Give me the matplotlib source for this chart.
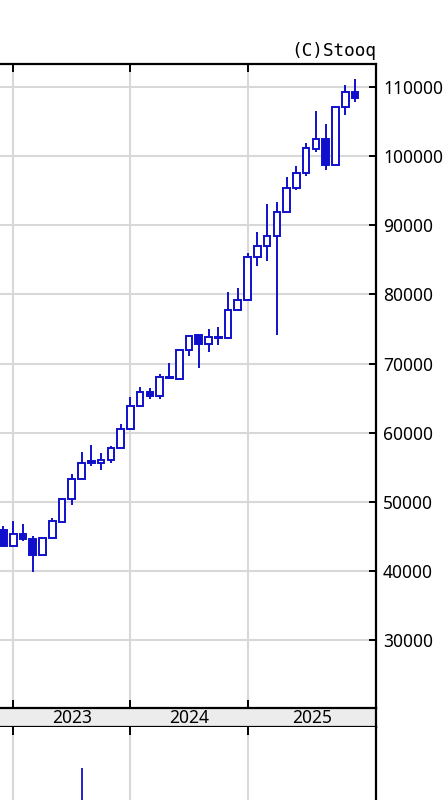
import matplotlib
matplotlib.use("Agg")
import matplotlib.pyplot as plt
import numpy as np

# monthly candles, Dec 2022 .. Dec 2025
opens = [45930, 43610, 45350, 44600, 42310, 44820, 47150, 50410, 53300, 55910,
         55650, 56050, 57750, 60490, 63900, 65940, 65310, 68010, 67770, 71960,
         74130, 72830, 73700, 73760, 77750, 79190, 85370, 87050, 88450, 91960,
         95440, 97520, 101030, 102480, 98720, 107150, 109320]
highs = [46510, 47270, 46800, 45060, 44900, 47710, 50600, 54030, 57250, 58220,
         57060, 58080, 61260, 65210, 66650, 66510, 68450, 70130, 71960, 73990,
         74130, 74960, 75330, 80300, 80890, 85950, 89070, 93030, 93410, 97030,
         98570, 101860, 106530, 104600, 107250, 110290, 111160]
lows = [43610, 43470, 44340, 39900, 42310, 44820, 47000, 49540, 53300, 55180,
        54600, 55670, 57750, 60490, 63900, 64830, 64830, 67770, 67770, 71090,
        69310, 71640, 72690, 73760, 77750, 79190, 84150, 84870, 74130, 91960,
        95100, 97130, 100640, 98000, 98720, 105950, 107790]
closes = [43610, 45350, 44580, 42310, 44820, 47230, 50460, 53300, 55580, 55580,
          56050, 57750, 60490, 63900, 65840, 65310, 68010, 67900, 71960, 73990,
          72790, 73790, 73900, 77750, 79190, 85460, 87050, 88450, 91960, 95440,
          97520, 101130, 102480, 98720, 107150, 109230, 108450]
volumes = [40, 35, 30, 45, 38, 33, 42, 50, 87, 36, 30, 34, 41, 48, 37, 32, 30, 28,
           35, 39, 44, 31, 29, 40, 36, 52, 38, 47, 55, 42, 34, 46, 39, 50, 45, 37, 33]
year_starts = [1, 13, 25]
year_labels = ["2023", "2024", "2025"]
price_ticks = [30000, 40000, 50000, 60000, 70000, 80000, 90000, 100000, 110000]

blue = "#1010cc"
grid_c = "#d8d8d8"
font = ["Noto Sans", "DejaVu Sans"]

x = np.arange(len(opens))
xmin, xmax = -0.35, 38.15

fig = plt.figure(figsize=(4.46, 8.0), dpi=100)
right = 376 / 446

# main price panel
ax = fig.add_axes([0, 1 - 708 / 800, right, (708 - 64) / 800])
ax.set_xlim(xmin, xmax)
ax.set_ylim(20180, 113330)
for y in price_ticks:
    ax.axhline(y, color=grid_c, lw=1.5, zorder=0)
for xs in year_starts:
    ax.axvline(xs, color=grid_c, lw=1.5, zorder=0)

o = np.array(opens); c = np.array(closes)
ax.vlines(x, lows, highs, color=blue, lw=1.4, zorder=2)
bottoms = np.minimum(o, c)
heights = np.maximum(np.abs(c - o), 60)
faces = ["white" if cc >= oo else blue for oo, cc in zip(o, c)]
ax.bar(x, heights, 0.68, bottom=bottoms, color=faces, edgecolor=blue, linewidth=1.4, zorder=3)

ax.spines["left"].set_visible(False)
ax.spines["bottom"].set_visible(False)
for s in ["top", "right"]:
    ax.spines[s].set_linewidth(1.6)
ax.yaxis.tick_right()
ax.set_yticks(price_ticks)
ax.set_yticklabels([str(v) for v in price_ticks], fontfamily=font, fontsize=12.5)
ax.tick_params(axis="y", direction="in", length=5, width=1.4, pad=5, right=True, left=False)
ax.set_xticks(year_starts)
ax.set_xticklabels([])
ax.tick_params(axis="x", direction="in", length=6, width=1.4, top=True, bottom=True)
ax.text(1.0, 1.006, "(C)Stooq", transform=ax.transAxes, ha="right", va="bottom",
        fontfamily="DejaVu Sans Mono", fontsize=12.8)

# date strip
ax2 = fig.add_axes([0, 1 - 727 / 800, right, 19 / 800])
ax2.set_facecolor("#ececec")
ax2.set_xlim(xmin, xmax)
ax2.set_ylim(0, 1)
ax2.set_yticks([])
ax2.set_xticks([])
ax2.spines["left"].set_visible(False)
for s in ["top", "bottom", "right"]:
    ax2.spines[s].set_linewidth(1.6)
edges = year_starts + [xmax]
for i, lab in enumerate(year_labels):
    ax2.text((edges[i] + edges[i + 1]) / 2, 0.45, lab, ha="center", va="center",
             fontfamily=font, fontsize=12.5)

# volume panel (mostly below the visible area)
ax3 = fig.add_axes([0, -0.3, right, 0.3 + 1 - 727 / 800])
ax3.set_xlim(xmin, xmax)
ax3.set_ylim(0, 100)
for xs in year_starts:
    ax3.axvline(xs, color=grid_c, lw=1.5, zorder=0)
ax3.vlines(x, 0, volumes, color=blue, lw=1.3, zorder=2)
ax3.spines["left"].set_visible(False)
ax3.spines["bottom"].set_visible(False)
ax3.spines["top"].set_visible(False)
ax3.spines["right"].set_linewidth(1.6)
ax3.set_yticks([])
ax3.set_xticks(year_starts)
ax3.set_xticklabels([])
ax3.tick_params(axis="x", direction="in", length=6, width=1.4, top=True, bottom=False)

fig.savefig("out.png", dpi=100)
